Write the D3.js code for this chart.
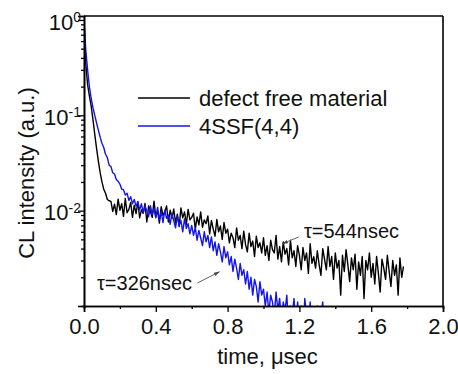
<!DOCTYPE html>
<html>
<head>
<meta charset="utf-8">
<script src="https://cdn.jsdelivr.net/npm/d3@7"></script>
<style>
  body { margin: 0; background: #fff; }
  svg { display: block; font-family: "Liberation Sans", Arial, sans-serif; }
</style>
</head>
<body>
<svg id="chart" width="458" height="374"></svg>
<script>
// series names and colours
const seriesNames = ['defect free material', '4SSF(4,4)'];
const seriesColors = ['#000000', '#1414f0'];

// time bin of the recorded transients (usec)
const sampleStep = 0.01;

// CL intensity (a.u.), one value per time bin, starting at t = 0
const defectFree = [
  1.0, 0.35, 0.21, 0.16, 0.125, 0.09, 0.063, 0.045, 0.033, 0.025,
  0.020, 0.0168, 0.0152, 0.0131, 0.0127, 0.0125, 0.0098, 0.0117, 0.0091, 0.0132,
  0.0101, 0.0118, 0.0087, 0.0134, 0.0095, 0.0103, 0.0122, 0.0085, 0.0114, 0.0093,
  0.0124, 0.0084, 0.0102, 0.0094, 0.0119, 0.0076, 0.0112, 0.0098, 0.0085, 0.0126,
  0.0086, 0.0100, 0.0074, 0.0110, 0.0089, 0.0097, 0.0112, 0.0076, 0.0101, 0.0083,
  0.0104, 0.0074, 0.0092, 0.0068, 0.0107, 0.0084, 0.0097, 0.0072, 0.0103, 0.0080,
  0.0085, 0.0094, 0.0064, 0.0086, 0.0071, 0.0097, 0.0067, 0.0080, 0.0073, 0.0088,
  0.0057, 0.0079, 0.0064, 0.0054, 0.0081, 0.0060, 0.0069, 0.0050, 0.0075, 0.0058,
  0.0064, 0.0046, 0.0058, 0.0052, 0.0041, 0.0066, 0.0049, 0.0055, 0.0040, 0.0061,
  0.0044, 0.0037, 0.0058, 0.0042, 0.0048, 0.0033, 0.0054, 0.0041, 0.0046, 0.0036,
  0.0052, 0.0034, 0.0043, 0.0030, 0.0049, 0.0039, 0.0036, 0.0055, 0.0031, 0.0042,
  0.0029, 0.0047, 0.0035, 0.0040, 0.0027, 0.0049, 0.0032, 0.0038, 0.0026, 0.0043,
  0.0034, 0.0024, 0.0041, 0.0030, 0.0036, 0.0022, 0.0045, 0.0028, 0.0033, 0.0025,
  0.0038, 0.0027, 0.0021, 0.0040, 0.0031, 0.0024, 0.0042, 0.0026, 0.0033, 0.0019,
  0.0036, 0.0025, 0.0030, 0.0013, 0.0034, 0.0023, 0.0039, 0.0027, 0.0018, 0.0032,
  0.0024, 0.0035, 0.0015, 0.0029, 0.0021, 0.0033, 0.0012, 0.0030, 0.0024, 0.0036,
  0.0020, 0.0028, 0.0017, 0.0033, 0.0022, 0.0014, 0.0031, 0.0025, 0.0019, 0.0034,
  0.0023, 0.0016, 0.0030, 0.0021, 0.0027, 0.0013, 0.0032, 0.0020, 0.0026
];

const ssf44 = [
  1.0, 0.48, 0.30, 0.20, 0.15, 0.12, 0.10, 0.083, 0.070, 0.059,
  0.051, 0.046, 0.039, 0.036, 0.030, 0.029, 0.025, 0.0242, 0.0212, 0.0203,
  0.0190, 0.0168, 0.0166, 0.0146, 0.0152, 0.0128, 0.0140, 0.0118, 0.0131, 0.0112,
  0.0124, 0.0102, 0.0118, 0.0094, 0.0112, 0.0099, 0.0086, 0.0113, 0.0091, 0.0104,
  0.0084, 0.0108, 0.0080, 0.0097, 0.0075, 0.0101, 0.0083, 0.0090, 0.0072, 0.0094,
  0.0078, 0.0066, 0.0088, 0.0070, 0.0079, 0.0060, 0.0082, 0.0065, 0.0073, 0.0057,
  0.0070, 0.0055, 0.0066, 0.0049, 0.0062, 0.0052, 0.0043, 0.0060, 0.0047, 0.0055,
  0.0041, 0.0053, 0.0038, 0.0047, 0.0034, 0.0045, 0.0037, 0.0029, 0.0042, 0.0032,
  0.0037, 0.0027, 0.0033, 0.0023, 0.0031, 0.0025, 0.0019, 0.0028, 0.0021, 0.0024,
  0.0017, 0.0023, 0.0015, 0.0020, 0.0013, 0.0019, 0.0016, 0.0011, 0.0018, 0.0013,
  0.0015, 0.0010, 0.0014, 0.00085, 0.0013, 0.0011, 0.0008, 0.0014, 0.0009, 0.0012,
  0.0007, 0.0011, 0.0009, 0.0013, 0.0006, 0.0010, 0.0008, 0.0012, 0.0006, 0.0011,
  0.0007, 0.0010, 0.0005, 0.0012, 0.0008, 0.0006, 0.0011, 0.0005, 0.0009, 0.0007,
  0.0010, 0.0005, 0.0008, 0.0011, 0.0005, 0.0009, 0.0006, 0.0004, 0.0008, 0.0005,
  0.0004
];

// axis ticks
const xMajorTicks = [0, 0.4, 0.8, 1.2, 1.6, 2.0];
const xMinorTicks = [0.2, 0.6, 1.0, 1.4, 1.8];
const xTickLabels = ['0.0', '0.4', '0.8', '1.2', '1.6', '2.0'];
const yMajorTicks = [1, 0.1, 0.01];
const yTickExponents = ['0', '-1', '-2'];
const yMinorTicks = [2, 3, 4, 5, 6, 7, 8, 9].flatMap(m => [m * 0.1, m * 0.01, m * 0.001]);

// lifetime annotations: label position, arrow start and arrow tip (data coords)
const notes = [
  { text: '\u03c4=544nsec', x: 1.225, y: 0.0052, fromX: 1.196, fromY: 0.0053, tipX: 1.106, tipY: 0.0045 },
  { text: '\u03c4=326nsec', x: 0.072, y: 0.00147, fromX: 0.631, fromY: 0.00174, tipX: 0.754, tipY: 0.00228 }
];

const svg = d3.select('#chart');
const margin = { top: 16, right: 15, bottom: 68, left: 84 };
const width = 458 - margin.left - margin.right;
const height = 374 - margin.top - margin.bottom;

const x = d3.scaleLinear().domain([0, 2]).range([0, width]);
const y = d3.scaleLog().domain([0.001, 1.1]).range([height, 0]);

const g = svg.append('g').attr('transform', `translate(${margin.left},${margin.top})`);

g.append('clipPath').attr('id', 'plot-clip')
  .append('rect').attr('width', width).attr('height', height);

// curves
const line = d3.line()
  .x((d, i) => x(i * sampleStep))
  .y(d => y(d));

[defectFree, ssf44].forEach((series, k) => {
  g.append('path')
    .datum(series)
    .attr('clip-path', 'url(#plot-clip)')
    .attr('fill', 'none')
    .attr('stroke', seriesColors[k])
    .attr('stroke-width', 1.4)
    .attr('stroke-linejoin', 'round')
    .attr('d', line);
});

// x axis
const xAxis = g.append('g').attr('transform', `translate(0,${height})`);
xAxis.call(d3.axisBottom(x).tickValues(xMinorTicks).tickSize(3).tickFormat(''));
xAxis.append('g').call(d3.axisBottom(x).tickValues(xMajorTicks).tickSize(6).tickPadding(6)
  .tickFormat((d, i) => xTickLabels[i]));

// y axis
const yAxis = g.append('g');
yAxis.call(d3.axisLeft(y).tickValues(yMinorTicks).tickSize(3).tickFormat(''));
const yMajor = yAxis.append('g').call(d3.axisLeft(y).tickValues(yMajorTicks).tickSize(6)
  .tickFormat(''));
yMajor.selectAll('.tick text').each(function (d, i) {
  const t = d3.select(this).attr('x', -3).attr('dy', '0.42em');
  t.append('tspan').text('10');
  t.append('tspan').attr('dy', '-0.55em').attr('font-size', 14).text(yTickExponents[i]);
});

svg.selectAll('.domain').attr('stroke-width', 1.6);
svg.selectAll('.tick line').attr('stroke-width', 1.3);
svg.selectAll('.tick text').attr('font-size', 22).attr('fill', '#111')
  .attr('font-family', '"Liberation Sans", Arial, sans-serif');

// top and right frame
g.append('line').attr('x1', 0).attr('x2', width).attr('y1', 0).attr('y2', 0)
  .attr('stroke', '#000').attr('stroke-width', 1.6);
g.append('line').attr('x1', width).attr('x2', width).attr('y1', 0).attr('y2', height)
  .attr('stroke', '#000').attr('stroke-width', 1.6);

// axis titles
svg.append('text')
  .attr('x', margin.left + width / 2 + 4)
  .attr('y', 364)
  .attr('text-anchor', 'middle')
  .attr('font-size', 22)
  .attr('fill', '#111')
  .text('time, \u03bcsec');

svg.append('text')
  .attr('transform', `translate(34,${margin.top + height / 2 + 12}) rotate(-90)`)
  .attr('text-anchor', 'middle')
  .attr('font-size', 22)
  .attr('fill', '#111')
  .text('CL intensity (a.u.)');

// legend
const legend = g.append('g').attr('transform', 'translate(54,82)');
seriesNames.forEach((name, i) => {
  const row = legend.append('g').attr('transform', `translate(0,${i * 28})`);
  row.append('line').attr('x1', 0).attr('x2', 52).attr('y1', 0).attr('y2', 0)
    .attr('stroke', seriesColors[i]).attr('stroke-width', 1.5);
  row.append('text').attr('x', 61).attr('y', 8)
    .attr('font-size', 22).attr('fill', '#111').text(name);
});

// lifetime annotations with arrows
svg.append('defs').append('marker')
  .attr('id', 'arrow')
  .attr('viewBox', '0 0 10 10')
  .attr('refX', 9).attr('refY', 5)
  .attr('markerWidth', 6).attr('markerHeight', 6)
  .attr('orient', 'auto')
  .append('path').attr('d', 'M0,2 L10,5 L0,8 z').attr('fill', '#444');

notes.forEach(n => {
  g.append('text').attr('x', x(n.x)).attr('y', y(n.y))
    .attr('font-size', 20).attr('fill', '#111').text(n.text);
  g.append('line')
    .attr('x1', x(n.fromX)).attr('y1', y(n.fromY))
    .attr('x2', x(n.tipX)).attr('y2', y(n.tipY))
    .attr('stroke', '#666').attr('stroke-width', 1)
    .attr('marker-end', 'url(#arrow)');
});
</script>
</body>
</html>
